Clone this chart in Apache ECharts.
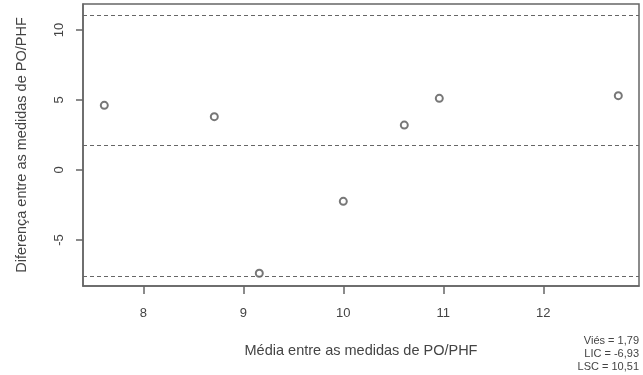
<!DOCTYPE html>
<html><head><meta charset="utf-8">
<script src="https://cdn.jsdelivr.net/npm/echarts@6/dist/echarts.min.js"></script>
<style>html,body{margin:0;padding:0;background:#fff}#c{width:643px;height:375px}</style>
</head><body><div id="c"></div>
<script>
const meanValues = [7.61, 8.71, 9.16, 10.00, 10.61, 10.96, 12.75];
const diffValues = [4.62, 3.81, -7.38, -2.24, 3.21, 5.12, 5.31];
const refLines = [11.09, 1.79, -7.57];
const xTicks = [8, 9, 10, 11, 12];
const yTicks = [-5, 0, 5, 10];
const statLabels = ['Viés = 1,79', 'LIC = -6,93', 'LSC = 10,51'];
const xTitle = 'Média entre as medidas de PO/PHF';
const yTitle = 'Diferença entre as medidas de PO/PHF';

const points = meanValues.map((x, i) => [x, diffValues[i]]);
const font = 'Liberation Sans, Arial, sans-serif';
const chart = echarts.init(document.getElementById('c'));
chart.setOption({
  animation: false,
  backgroundColor: '#fff',
  grid: {left: 83, top: 4, right: 4, bottom: 89, show: true, borderColor: '#666', borderWidth: 1.5, backgroundColor: 'transparent'},
  xAxis: {
    type: 'value', min: 7.397, max: 12.957,
    name: xTitle, nameLocation: 'middle', nameGap: 57,
    nameTextStyle: {fontFamily: font, fontSize: 14.5, color: '#444'},
    axisLine: {show: true, onZero: false, lineStyle: {color: '#666', width: 1.5}},
    splitLine: {show: false},
    axisTick: {show: true, length: 8, customValues: xTicks, lineStyle: {color: '#666', width: 1.5}},
    axisLabel: {customValues: xTicks, fontFamily: font, fontSize: 13, color: '#444', margin: 21}
  },
  yAxis: {
    type: 'value', min: -8.29, max: 11.86,
    name: yTitle, nameLocation: 'middle', nameGap: 54,
    nameTextStyle: {fontFamily: font, fontSize: 14.5, color: '#444'},
    axisLine: {show: true, onZero: false, lineStyle: {color: '#666', width: 1.5}},
    splitLine: {show: false},
    axisTick: {show: true, length: 7, customValues: yTicks, lineStyle: {color: '#666', width: 1.5}},
    axisLabel: {customValues: yTicks, rotate: 90, fontFamily: font, fontSize: 13, color: '#444', margin: 17}
  },
  series: [{
    type: 'scatter',
    data: points,
    symbol: 'emptyCircle',
    symbolSize: 7,
    itemStyle: {color: '#555', borderColor: '#555', borderWidth: 1},
    markLine: {
      silent: true,
      symbol: 'none',
      label: {show: false},
      lineStyle: {color: '#666', type: [4, 3], width: 1.2},
      data: refLines.map(v => ({yAxis: v}))
    }
  }],
  graphic: statLabels.map((t, i) => ({
    type: 'text', right: 4, top: 335 + i * 13,
    style: {text: t, font: '11px ' + font, fill: '#444'}
  }))
});
</script></body></html>
